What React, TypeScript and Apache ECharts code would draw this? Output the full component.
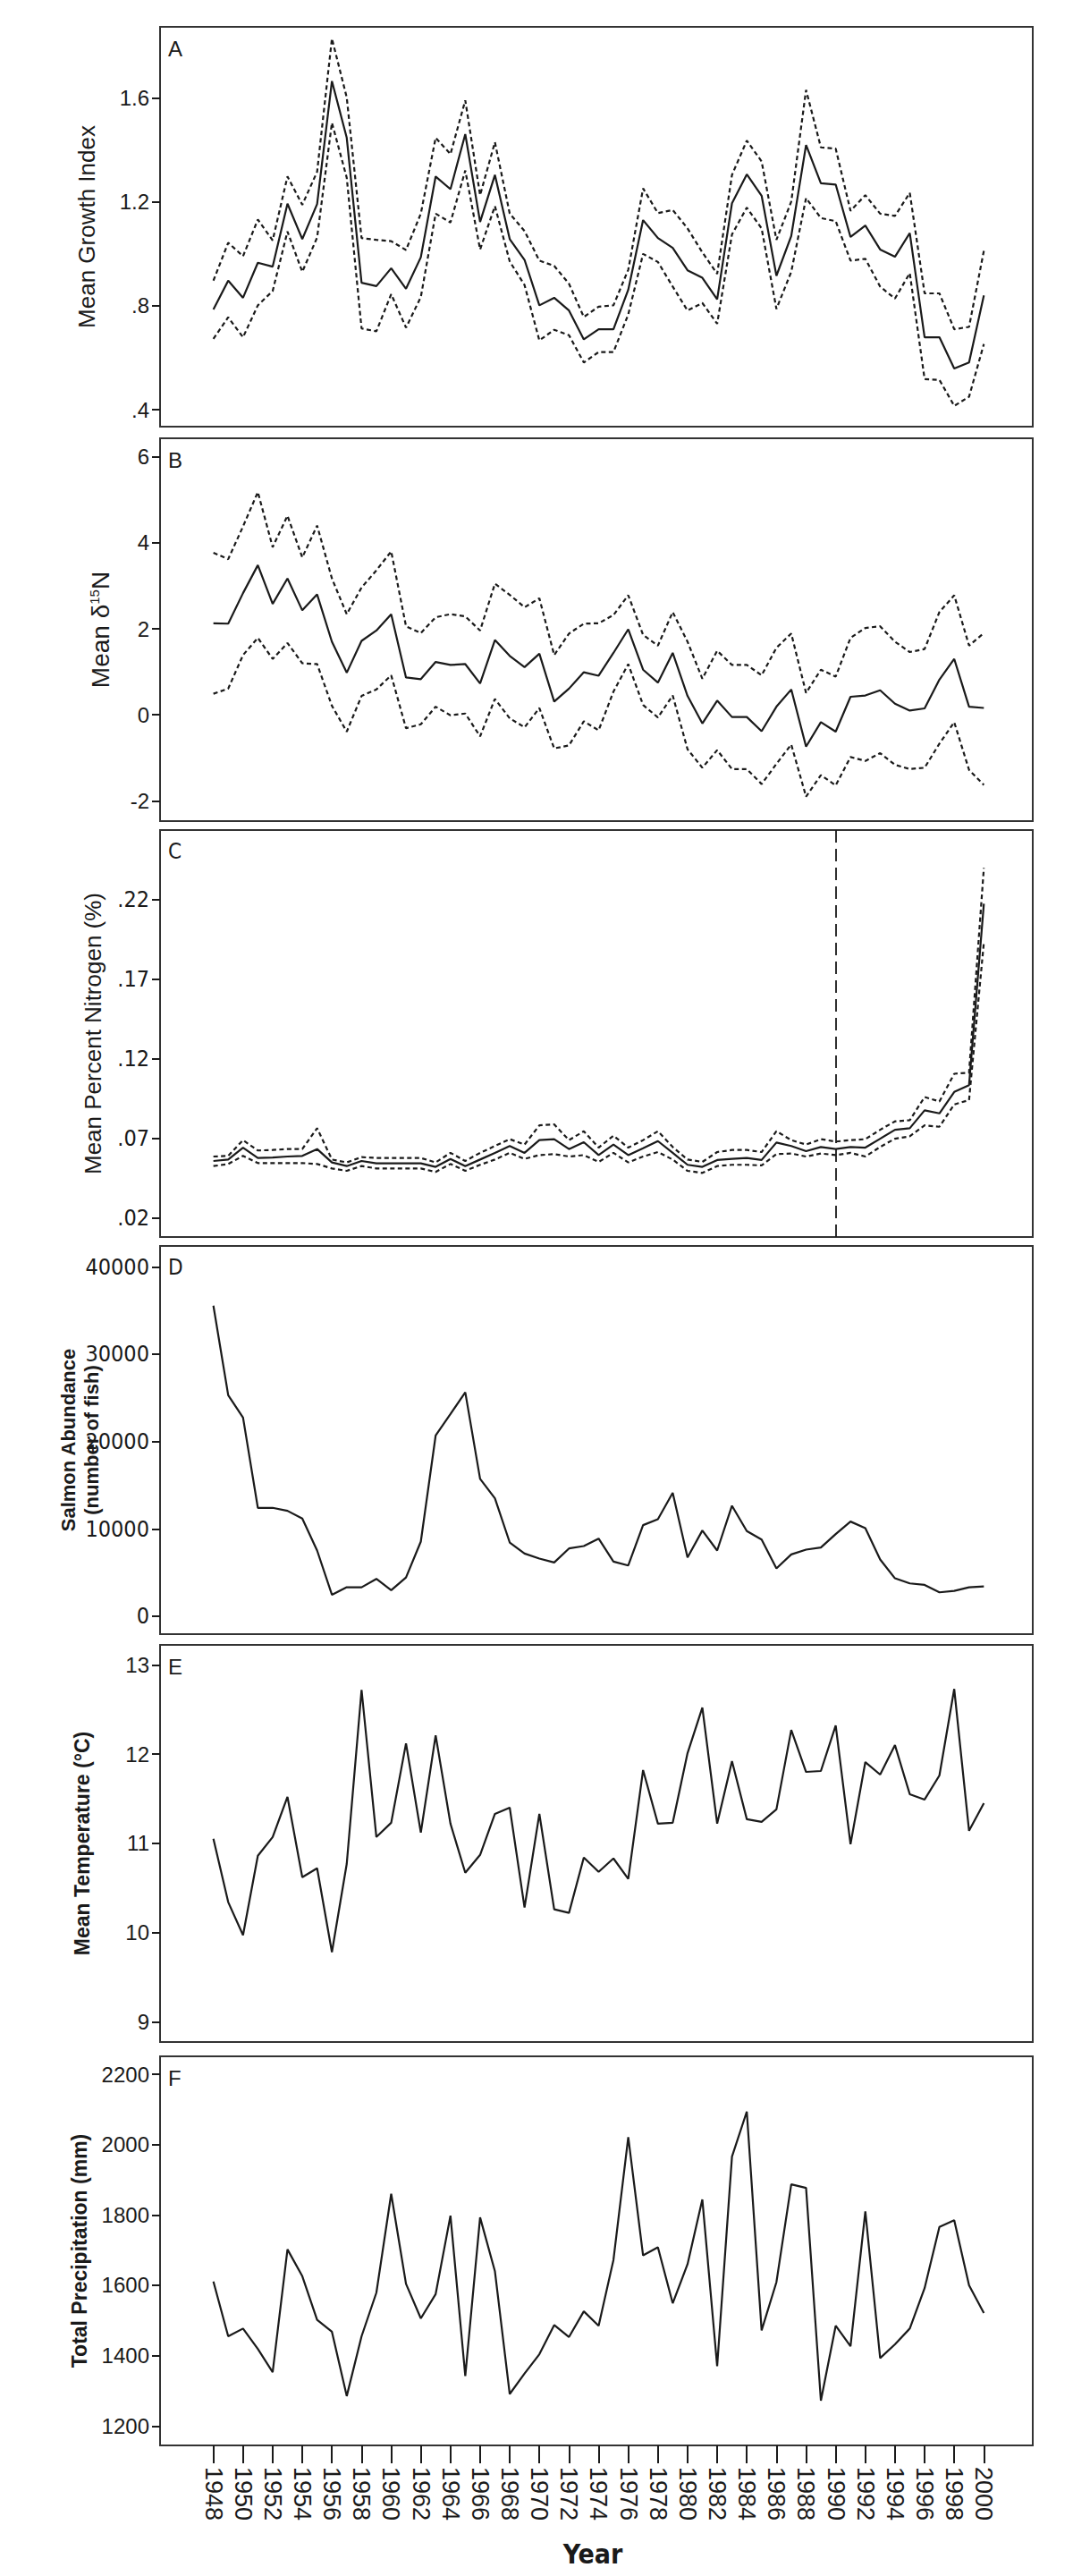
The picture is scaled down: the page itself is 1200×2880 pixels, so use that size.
import React, { useEffect, useRef } from "react";
import * as echarts from "echarts";

const years = [1948,1949,1950,1951,1952,1953,1954,1955,1956,1957,1958,1959,1960,1961,1962,1963,1964,1965,1966,1967,1968,1969,1970,1971,1972,1973,1974,1975,1976,1977,1978,1979,1980,1981,1982,1983,1984,1985,1986,1987,1988,1989,1990,1991,1992,1993,1994,1995,1996,1997,1998,1999,2000];
const yearTicks = [1948,1950,1952,1954,1956,1958,1960,1962,1964,1966,1968,1970,1972,1974,1976,1978,1980,1982,1984,1986,1988,1990,1992,1994,1996,1998,2000];

const growthMean = [0.786,0.897,0.831,0.966,0.951,1.193,1.057,1.192,1.665,1.447,0.889,0.876,0.945,0.866,0.987,1.298,1.249,1.461,1.123,1.304,1.057,0.977,0.802,0.831,0.782,0.671,0.710,0.710,0.862,1.130,1.061,1.023,0.937,0.908,0.825,1.195,1.306,1.224,0.916,1.069,1.419,1.272,1.267,1.065,1.109,1.017,0.989,1.080,0.679,0.679,0.559,0.582,0.840];
const growthUpper = [0.897,1.043,0.991,1.132,1.052,1.298,1.189,1.316,1.829,1.602,1.061,1.054,1.049,1.015,1.155,1.447,1.384,1.591,1.226,1.430,1.155,1.088,0.974,0.954,0.885,0.757,0.797,0.802,0.939,1.252,1.157,1.169,1.098,1.006,0.923,1.304,1.436,1.356,1.054,1.201,1.631,1.410,1.405,1.166,1.226,1.155,1.146,1.235,0.848,0.848,0.710,0.719,1.012];
const growthLower = [0.673,0.756,0.679,0.802,0.857,1.086,0.931,1.063,1.505,1.293,0.713,0.702,0.845,0.716,0.834,1.155,1.121,1.321,1.017,1.184,0.971,0.880,0.667,0.708,0.687,0.582,0.622,0.622,0.767,1.000,0.969,0.874,0.782,0.811,0.731,1.075,1.178,1.098,0.788,0.931,1.215,1.138,1.126,0.974,0.981,0.874,0.828,0.926,0.518,0.515,0.415,0.450,0.653];

const d15NMean = [2.13,2.12,2.83,3.48,2.58,3.17,2.43,2.80,1.70,0.98,1.72,1.96,2.34,0.87,0.83,1.23,1.16,1.18,0.73,1.74,1.37,1.11,1.42,0.31,0.61,0.99,0.91,1.44,1.99,1.05,0.75,1.44,0.44,-0.20,0.33,-0.05,-0.05,-0.38,0.19,0.59,-0.74,-0.17,-0.39,0.42,0.45,0.57,0.26,0.10,0.15,0.82,1.30,0.19,0.16];
const d15NUpper = [3.77,3.62,4.38,5.18,3.90,4.63,3.66,4.40,3.17,2.34,2.96,3.36,3.80,2.06,1.90,2.27,2.34,2.29,1.96,3.05,2.79,2.50,2.71,1.39,1.89,2.12,2.13,2.32,2.78,1.86,1.61,2.39,1.70,0.84,1.49,1.16,1.16,0.92,1.56,1.89,0.51,1.05,0.89,1.79,2.02,2.06,1.70,1.46,1.53,2.39,2.78,1.61,1.90];
const d15NLower = [0.49,0.61,1.39,1.79,1.30,1.67,1.20,1.18,0.21,-0.39,0.44,0.59,0.92,-0.31,-0.22,0.19,-0.01,0.03,-0.50,0.37,-0.08,-0.29,0.16,-0.78,-0.71,-0.15,-0.36,0.54,1.18,0.23,-0.06,0.45,-0.80,-1.23,-0.82,-1.26,-1.26,-1.61,-1.14,-0.69,-1.90,-1.40,-1.64,-0.98,-1.07,-0.89,-1.16,-1.26,-1.23,-0.67,-0.17,-1.28,-1.63];

const nitroMean = [0.0556,0.0565,0.0640,0.0575,0.0578,0.0584,0.0588,0.0631,0.0547,0.0524,0.0556,0.0541,0.0541,0.0541,0.0541,0.0519,0.0569,0.0524,0.0565,0.0607,0.0650,0.0607,0.0687,0.0693,0.0631,0.0674,0.0593,0.0659,0.0593,0.0636,0.0681,0.0607,0.0532,0.0519,0.0562,0.0569,0.0575,0.0562,0.0672,0.0650,0.0618,0.0644,0.0631,0.0644,0.0640,0.0696,0.0752,0.0762,0.0874,0.0855,0.0990,0.1033,0.2173];
const nitroUpper = [0.0584,0.0588,0.0687,0.0622,0.0625,0.0631,0.0631,0.0762,0.0565,0.0547,0.0580,0.0575,0.0575,0.0575,0.0575,0.0547,0.0607,0.0556,0.0607,0.0650,0.0693,0.0659,0.0780,0.0786,0.0687,0.0743,0.0640,0.0715,0.0640,0.0687,0.0743,0.0644,0.0565,0.0550,0.0612,0.0625,0.0625,0.0612,0.0743,0.0687,0.0659,0.0693,0.0678,0.0687,0.0693,0.0752,0.0805,0.0812,0.0958,0.0930,0.1104,0.1111,0.2398];
const nitroLower = [0.0524,0.0537,0.0588,0.0543,0.0543,0.0543,0.0543,0.0537,0.0509,0.0494,0.0524,0.0509,0.0509,0.0509,0.0509,0.0487,0.0537,0.0494,0.0532,0.0565,0.0607,0.0569,0.0593,0.0599,0.0584,0.0593,0.0550,0.0607,0.0547,0.0584,0.0612,0.0565,0.0494,0.0481,0.0524,0.0532,0.0532,0.0528,0.0599,0.0603,0.0584,0.0603,0.0593,0.0607,0.0584,0.0644,0.0696,0.0711,0.0780,0.0771,0.0911,0.0939,0.1930];
const nitroBreakYear = 1990;

const salmon = [35556,25299,22735,12410,12410,12068,11179,7521,2462,3316,3316,4274,2974,4444,8547,20684,23145,25641,15726,13504,8444,7179,6598,6154,7761,8034,8889,6256,5812,10427,11111,14120,6735,9812,7521,12650,9744,8786,5470,7077,7624,7863,9402,10838,10085,6496,4342,3761,3590,2735,2906,3316,3419];

const temperature = [11.05,10.34,9.97,10.86,11.07,11.52,10.62,10.72,9.78,10.77,12.72,11.07,11.23,12.12,11.12,12.21,11.22,10.67,10.87,11.33,11.40,10.28,11.33,10.26,10.22,10.84,10.68,10.83,10.60,11.82,11.22,11.23,12.01,12.52,11.22,11.92,11.27,11.24,11.38,12.27,11.80,11.81,12.32,10.99,11.91,11.77,12.10,11.55,11.49,11.76,12.73,11.14,11.45];

const precipitation = [1611,1455,1477,1419,1353,1702,1626,1502,1468,1285,1455,1579,1860,1604,1506,1575,1798,1342,1793,1640,1291,1349,1404,1487,1453,1526,1485,1672,2021,1685,1708,1549,1660,1844,1370,1966,2094,1472,1609,1887,1877,1272,1485,1427,1810,1393,1432,1477,1592,1766,1785,1600,1521];

const ticksA = [0.4, 0.8, 1.2, 1.6];
const ticksB = [-2, 0, 2, 4, 6];
const ticksC = [0.02, 0.07, 0.12, 0.17, 0.22];
const ticksD = [0, 10000, 20000, 30000, 40000];
const ticksE = [9, 10, 11, 12, 13];
const ticksF = [1200, 1400, 1600, 1800, 2000, 2200];

const X_MIN = 1944.4;
const X_MAX = 2003.3;
const GRID_LEFT = 179;
const GRID_WIDTH = 976;

const panels = [
  { top: 30, height: 447, min: 0.335, max: 1.874, ticks: ticksA, letter: "A", narrow: false },
  { top: 490, height: 428, min: -2.47, max: 6.43, ticks: ticksB, letter: "B", narrow: false },
  { top: 928, height: 455, min: 0.0078, max: 0.2636, ticks: ticksC, letter: "C", narrow: true },
  { top: 1393, height: 434, min: -2051, max: 42390, ticks: ticksD, letter: "D", narrow: true },
  { top: 1839, height: 444, min: 8.772, max: 13.224, ticks: ticksE, letter: "E", narrow: false },
  { top: 2299, height: 435, min: 1144.8, max: 2251, ticks: ticksF, letter: "F", narrow: false },
];

const INK = "#1a1a1a";
const SANS = "'Liberation Sans', Arial, Helvetica, sans-serif";
const NARROW = "'Liberation Sans Narrow', 'DejaVu Sans Condensed', 'Liberation Sans', sans-serif";

function decFmt(v: number) {
  const s = String(Math.round(v * 1000) / 1000);
  return s.startsWith("0.") ? s.slice(1) : s;
}

function pairs(vals: number[]) {
  return years.map((y, i) => [y, vals[i]]);
}

function lineSeries(idx: number, vals: number[], dashed: boolean, extra: any = {}) {
  return {
    type: "line",
    xAxisIndex: idx,
    yAxisIndex: idx,
    data: pairs(vals),
    showSymbol: false,
    symbol: "none",
    silent: true,
    lineStyle: {
      color: INK,
      width: 2.2,
      type: dashed ? [5, 3.5] : "solid",
    },
    ...extra,
  };
}

export default function App() {
  const ref = useRef<HTMLDivElement>(null);

  useEffect(() => {
    if (!ref.current) return;
    const chart = echarts.init(ref.current, null, { renderer: "svg" });

    const grids = panels.map((p) => ({
      left: GRID_LEFT,
      width: GRID_WIDTH,
      top: p.top,
      height: p.height,
      show: true,
      borderColor: "#333",
      borderWidth: 2,
      backgroundColor: "transparent",
    }));

    const xAxes = panels.map((p, i) => {
      const last = i === panels.length - 1;
      return {
        gridIndex: i,
        type: "value",
        min: X_MIN,
        max: X_MAX,
        axisLine: { show: false },
        splitLine: { show: false },
        axisTick: last
          ? { show: true, customValues: yearTicks, length: 20, lineStyle: { color: INK, width: 2 } }
          : { show: false },
        axisLabel: last
          ? {
              show: true,
              customValues: yearTicks,
              rotate: -90,
              margin: 24,
              fontSize: 27,
              fontFamily: SANS,
              color: INK,
              formatter: (v: number) => String(v),
            }
          : { show: false },
      };
    });

    const yAxes = panels.map((p, i) => ({
      gridIndex: i,
      type: "value",
      min: p.min,
      max: p.max,
      axisLine: { show: false },
      splitLine: { show: false },
      axisTick: { show: true, customValues: p.ticks, length: 9, lineStyle: { color: INK, width: 2 } },
      axisLabel: {
        show: true,
        customValues: p.ticks,
        margin: 12,
        fontSize: p.narrow ? 25 : 24,
        fontFamily: p.narrow ? NARROW : SANS,
        color: INK,
        formatter: (v: number) => (i === 0 || i === 2 ? decFmt(v) : String(v)),
      },
    }));

    const series: any[] = [
      lineSeries(0, growthUpper, true),
      lineSeries(0, growthLower, true),
      lineSeries(0, growthMean, false),
      lineSeries(1, d15NUpper, true),
      lineSeries(1, d15NLower, true),
      lineSeries(1, d15NMean, false),
      lineSeries(2, nitroUpper, true),
      lineSeries(2, nitroLower, true),
      lineSeries(2, nitroMean, false, {
        markLine: {
          silent: true,
          symbol: "none",
          label: { show: false },
          lineStyle: { color: INK, width: 1.8, type: [14, 7] },
          data: [{ xAxis: nitroBreakYear }],
        },
      }),
      lineSeries(3, salmon, false),
      lineSeries(4, temperature, false),
      lineSeries(5, precipitation, false),
    ];

    const letters = panels.map((p) => ({
      type: "text",
      left: GRID_LEFT + 9,
      top: p.top + 12,
      style: { text: p.letter, fontSize: 24, fontFamily: p.narrow ? NARROW : SANS, fill: INK },
    }));

    const mid = (i: number) => panels[i].top + panels[i].height / 2;
    const textStyle = (text: string, size: number, bold: boolean, family = SANS) => ({
      text,
      fontSize: size,
      fontWeight: bold ? "bold" : "normal",
      fontFamily: family,
      fill: INK,
      align: "center",
      verticalAlign: "middle",
      textAlign: "center",
      textVerticalAlign: "middle",
    });
    const vtitle = (text: string, cx: number, cy: number, size: number, bold: boolean, family = SANS) => ({
      type: "text",
      x: cx,
      y: cy,
      rotation: Math.PI / 2,
      style: textStyle(text, size, bold, family),
    });

    const titles: any[] = [
      vtitle("Mean Growth Index", 97, mid(0), 26, false),
      {
        type: "text",
        x: 112,
        y: mid(1),
        rotation: Math.PI / 2,
        style: {
          text: "{a|Mean δ}{s|15}{a|N}",
          align: "center",
          verticalAlign: "middle",
          textAlign: "center",
          textVerticalAlign: "middle",
          fill: INK,
          rich: {
            a: { fontSize: 28, fontFamily: SANS, fill: INK, verticalAlign: "bottom" },
            s: { fontSize: 15, fontFamily: SANS, fill: INK, verticalAlign: "top", padding: [0, 0, 14, 0] },
          },
        },
      },
      vtitle("Mean Percent Nitrogen (%)", 104, mid(2), 26, false),
      {
        type: "group",
        x: 89,
        y: mid(3),
        rotation: Math.PI / 2,
        children: [
          { type: "text", x: 0, y: -13, style: textStyle("Salmon Abundance", 22, true) },
          { type: "text", x: 0, y: 13, style: textStyle("(number of fish)", 22, true) },
        ],
      },
      vtitle("Mean Temperature (°C)", 92, mid(4), 23, true),
      vtitle("Total Precipitation (mm)", 89, mid(5), 23, true),
      {
        type: "text",
        x: GRID_LEFT + GRID_WIDTH / 2 - 4,
        y: 2855,
        style: {
          text: "Year",
          fontSize: 30,
          fontWeight: "bold",
          fontFamily: NARROW,
          fill: INK,
          align: "center",
          verticalAlign: "middle",
          textAlign: "center",
          textVerticalAlign: "middle",
        },
      },
    ];

    chart.setOption({
      animation: false,
      backgroundColor: "#ffffff",
      grid: grids,
      xAxis: xAxes,
      yAxis: yAxes,
      series,
      graphic: [...letters, ...titles],
    });

    return () => chart.dispose();
  }, []);

  return (
    <div
      ref={ref}
      style={{ position: "absolute", left: 0, top: 0, width: 1200, height: 2880, background: "#fff" }}
    />
  );
}
